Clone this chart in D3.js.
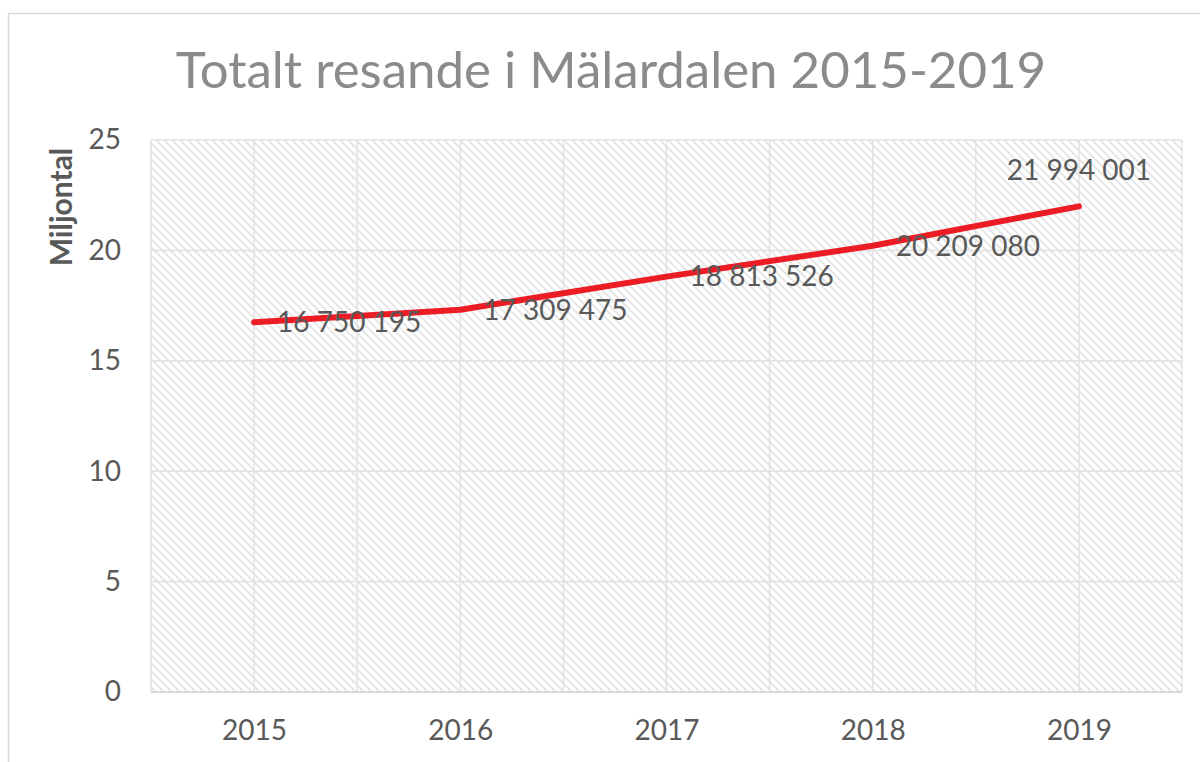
<!DOCTYPE html>
<html>
<head>
<meta charset="utf-8">
<script src="https://cdn.jsdelivr.net/npm/d3@7"></script>
<style>
  html, body { margin: 0; padding: 0; background: #fff; }
  svg { display: block; }
</style>
</head>
<body>
<div id="chart"></div>
<script>
const title = "Totalt resande i Mälardalen 2015-2019";
const yAxisTitle = "Miljontal";
const categories = ["2015", "2016", "2017", "2018", "2019"];
const values = [16750195, 17309475, 18813526, 20209080, 21994001];
const labelPositions = ["right", "right", "right", "right", "above"];
const yTicks = [0, 5, 10, 15, 20, 25];

const W = 1200, H = 762;
const plot = { left: 151, right: 1182, top: 140, bottom: 692 };
const font = "Lato, 'Open Sans', sans-serif";

const svg = d3.select("#chart").append("svg")
  .attr("width", W).attr("height", H);

const defs = svg.append("defs");
const pat = defs.append("pattern")
  .attr("id", "hatch").attr("patternUnits", "userSpaceOnUse")
  .attr("width", 8).attr("height", 8);
pat.append("rect").attr("width", 8).attr("height", 8).attr("fill", "#fff");
pat.append("path")
  .attr("d", "M-2,-2 L10,10 M-2,6 L2,10 M6,-2 L10,2")
  .attr("stroke", "#e4e4e4").attr("stroke-width", 1.8).attr("fill", "none");

// Outer chart border
svg.append("rect")
  .attr("x", 8.5).attr("y", 13.5).attr("width", 1200).attr("height", 800)
  .attr("fill", "none").attr("stroke", "#d9d9d9").attr("stroke-width", 1.5);

// Title
svg.append("text")
  .attr("x", 611).attr("y", 88)
  .attr("text-anchor", "middle")
  .attr("font-family", font).attr("font-size", 51)
  .attr("fill", "#8b8b8d")
  .text(title);

const x = d3.scalePoint().domain(categories)
  .range([plot.left, plot.right]).padding(0.5);
const y = d3.scaleLinear().domain([0, 25]).range([plot.bottom, plot.top]);

// Plot area background
svg.append("rect")
  .attr("x", plot.left).attr("y", plot.top)
  .attr("width", plot.right - plot.left).attr("height", plot.bottom - plot.top)
  .attr("fill", "url(#hatch)");

// Vertical gridlines: at category centres and at category boundaries
const step = x.step();
const vLines = [];
categories.forEach(c => { vLines.push(x(c) - step / 2); vLines.push(x(c)); });
vLines.push(x(categories[categories.length - 1]) + step / 2);

const grid = svg.append("g").attr("stroke", "#e2e2e2").attr("stroke-width", 1.5);
grid.selectAll("line.v").data(vLines).join("line")
  .attr("x1", d => d).attr("x2", d => d)
  .attr("y1", plot.top).attr("y2", plot.bottom);

// Horizontal gridlines
grid.selectAll("line.h").data(yTicks).join("line")
  .attr("x1", plot.left).attr("x2", plot.right)
  .attr("y1", d => y(d)).attr("y2", d => y(d));

// X axis line
svg.append("line")
  .attr("x1", plot.left).attr("x2", plot.right)
  .attr("y1", plot.bottom).attr("y2", plot.bottom)
  .attr("stroke", "#d9d9d9").attr("stroke-width", 2);

// Y axis labels
const yAxis = d3.axisLeft(y).tickValues(yTicks).tickSize(0).tickPadding(30)
  .tickFormat(d3.format("d"));
const gy = svg.append("g").attr("transform", `translate(${plot.left},0)`).call(yAxis);
gy.select(".domain").remove();
gy.selectAll("text").attr("font-family", font).attr("font-size", 28)
  .attr("fill", "#595959");

// X axis labels
const xAxis = d3.axisBottom(x).tickSize(0).tickPadding(28);
const gx = svg.append("g").attr("transform", `translate(0,${plot.bottom})`).call(xAxis);
gx.select(".domain").remove();
gx.selectAll("text").attr("font-family", font).attr("font-size", 28)
  .attr("fill", "#595959");

// Y axis title
svg.append("text")
  .attr("transform", `translate(72,207) rotate(-90)`)
  .attr("text-anchor", "middle")
  .attr("font-family", font).attr("font-size", 30).attr("font-weight", "bold")
  .attr("fill", "#595959")
  .text(yAxisTitle);

// Line
const data = categories.map((c, i) => ({ c, v: values[i] / 1e6, raw: values[i], pos: labelPositions[i] }));
const line = d3.line().x(d => x(d.c)).y(d => y(d.v));
svg.append("path").datum(data)
  .attr("d", line)
  .attr("fill", "none").attr("stroke", "#ec1c24").attr("stroke-width", 6)
  .attr("stroke-linecap", "round").attr("stroke-linejoin", "round");

// Data labels
const fmt = v => d3.format(",")(v).replace(/,/g, " ");
svg.append("g").selectAll("text").data(data).join("text")
  .attr("x", d => d.pos === "right" ? x(d.c) + 23 : x(d.c))
  .attr("y", d => d.pos === "right" ? y(d.v) : y(d.v) - 36)
  .attr("dy", "0.35em")
  .attr("text-anchor", d => d.pos === "right" ? "start" : "middle")
  .attr("font-family", font).attr("font-size", 28)
  .attr("fill", "#595959")
  .text(d => fmt(d.raw));
</script>
</body>
</html>
